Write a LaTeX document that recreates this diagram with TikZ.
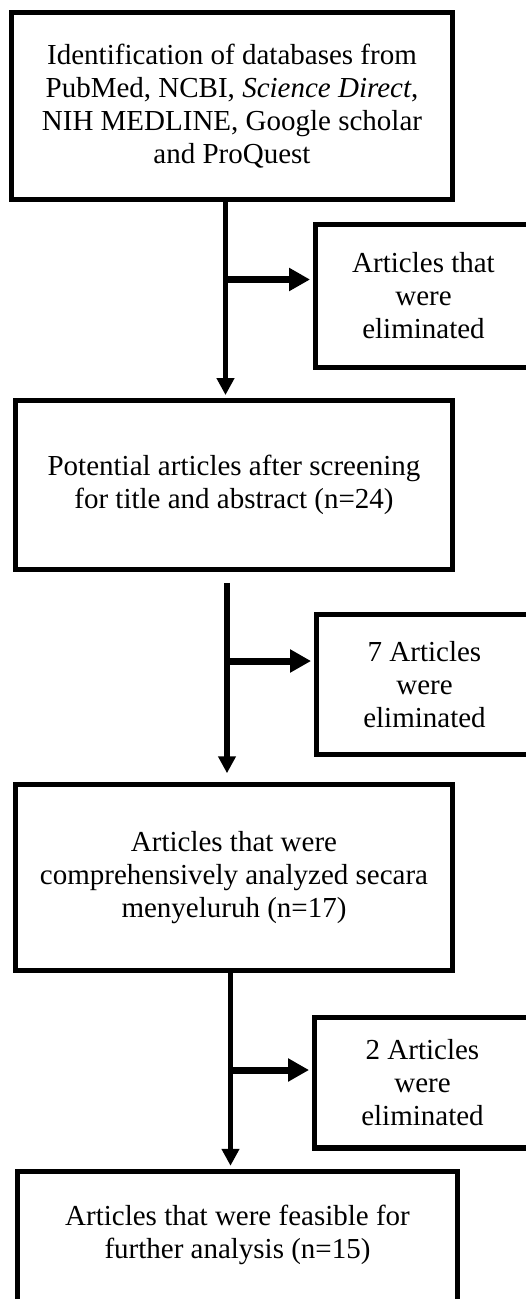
\documentclass[tikz,border=0pt]{standalone}
\usepackage{fontspec}
\setmainfont{Liberation Serif}
\usetikzlibrary{arrows.meta}

\begin{document}
\begin{tikzpicture}[x=1pt,y=-1pt,
  flowbox/.style={draw,line width=5.5pt,align=center,inner sep=0pt,
    font=\fontsize{29}{33}\selectfont},
  mainbox/.style={flowbox,minimum width=437pt},
  elimbox/.style={flowbox,minimum width=216pt},
  downarrow/.style={line width=5.7pt,-{Triangle[length=17pt,width=17pt]}},
  sidearrow/.style={line width=7pt,-{Triangle[length=21pt,width=22pt]},shorten >=2.7pt}]
\useasboundingbox (0,0) rectangle (526,1299);
\clip (0,0) rectangle (526,1299);
\fill [white] (0,0) rectangle (526,1299);

\node [mainbox, minimum width=441pt, minimum height=187pt] (ident) at (232,106)
  {Identification of databases from\\PubMed, NCBI, \textit{Science Direct},\\NIH MEDLINE, Google scholar\\and ProQuest};
\node [elimbox, minimum height=143pt] (elim1) at (423.5,296) {Articles that\\were\\eliminated};
\node [mainbox, minimum height=169pt] (screen) at (234,485)
  {Potential articles after screening\\for title and abstract (n=24)};
\node [elimbox, minimum height=140pt] (elim2) at (424.5,684.5) {7 Articles\\were\\eliminated};
\node [mainbox, minimum height=186pt] (analyzed) at (234,877.5)
  {Articles that were\\comprehensively analyzed secara\\menyeluruh (n=17)};
\node [elimbox, minimum height=130.5pt] (elim3) at (422.5,1082.75) {2 Articles\\were\\eliminated};
\node [mainbox, minimum width=440pt, inner ysep=34pt, text depth=25pt, anchor=north] (feasible) at (237.5,1168.5)
  {Articles that were feasible for\\further analysis (n=15)};

\coordinate (b1) at (225.5,279.5);
\coordinate (b2) at (227,661);
\coordinate (b3) at (230.5,1070);

\draw [downarrow, shorten >=2.7pt] (ident.south -| b1) -- (screen.north -| b1);
\draw [sidearrow] (b1) -- (b1 -| elim1.west);
\draw [downarrow, shorten <=10.5pt, shorten >=8.5pt] (screen.south -| b2) -- (analyzed.north -| b2);
\draw [sidearrow] (b2) -- (b2 -| elim2.west);
\draw [downarrow, shorten >=2.7pt] (analyzed.south -| b3) -- (feasible.north -| b3);
\draw [sidearrow] (b3) -- (b3 -| elim3.west);
\end{tikzpicture}
\end{document}
